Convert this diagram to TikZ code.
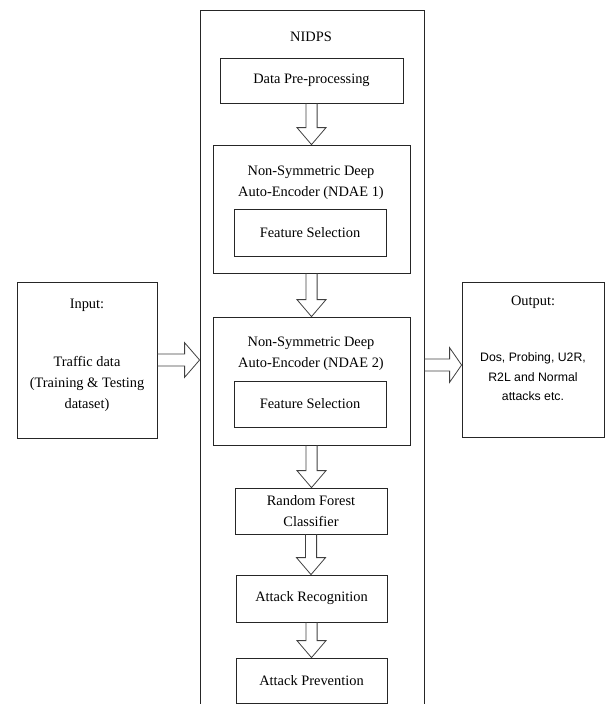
\documentclass[tikz,border=0pt]{standalone}
\usepackage{fontspec}
\setmainfont{Liberation Serif}
\newfontfamily\arialfont{Liberation Sans}
\usetikzlibrary{calc,fit}
\tikzset{
  box/.style={draw=black!85, line width=0.6pt, inner sep=0pt},
  txt/.style={align=center, inner sep=0pt, font=\fontsize{10.8}{15.75}\selectfont},
  blk/.style={draw=black!75, line width=0.6pt, line join=miter}
}
\newcommand\varrow[2]{%
  \draw[blk] let \p1=(#1.south), \p2=(#2.north) in
    (\x1-4.2pt,\y1) -- (\x1-4.2pt,\y2+12.75pt) -- (\x1-10.9pt,\y2+12.75pt) --
    (\x1,\y2) -- (\x1+10.9pt,\y2+12.75pt) -- (\x1+4.2pt,\y2+12.75pt) -- (\x1+4.2pt,\y1);}
\newcommand\harrow[3]{%
  \draw[blk] let \p1=(#1.east), \p2=(#2.west) in
    (\x1,\y1+4.5pt) -- (\x2-#3,\y1+4.5pt) -- (\x2-#3,\y1+13pt) --
    (\x2,\y1) -- (\x2-#3,\y1-13pt) -- (\x2-#3,\y1-4.5pt) -- (\x1,\y1-4.5pt);}
\begin{document}
\begin{tikzpicture}[x=0.75pt,y=-0.75pt]
\useasboundingbox (0,0) rectangle (606,704);
% outer NIDPS box
\node[box, fit={(200,10) (424,720)}] (outer) {};
\node[txt] (title) at (311,37) {NIDPS};
% inner boxes
\node[box, fit={(220,58) (403,103)}] (dp) {};
\node[txt] (dpt) at (dp.center) {Data Pre-processing};
\node[box, fit={(213,145) (410,273)}] (nd1) {};
\node[txt] (nd1t) at (311,182.5) {Non-Symmetric Deep\\Auto-Encoder (NDAE 1)};
\node[box, fit={(234,209) (386,256)}] (fs1) {};
\node[txt] (fs1t) at (fs1.center) {Feature Selection};
\node[box, fit={(213,317) (410,445)}] (nd2) {};
\node[txt] (nd2t) at (311,353.5) {Non-Symmetric Deep\\Auto-Encoder (NDAE 2)};
\node[box, fit={(234,381) (386,427)}] (fs2) {};
\node[txt] (fs2t) at (fs2.center) {Feature Selection};
\node[box, fit={(235,488) (387,534)}] (rf) {};
\node[txt] (rft) at (rf.center) {Random Forest\\Classifier};
\node[box, fit={(236,575) (387,622)}] (ar) {};
\node[txt] (art) at (ar.center) {Attack Recognition};
\node[box, fit={(236,658) (387,703)}] (ap) {};
\node[txt] (apt) at (ap.center) {Attack Prevention};
% input and output
\node[box, fit={(17,282) (157,438)}] (in) {};
\node[txt] (int) at (87,305) {Input:};
\node[txt] (intd) at (87,383.5) {Traffic data\\(Training \& Testing\\dataset)};
\node[box, fit={(462,282) (604,437)}] (out) {};
\node[txt] (outt) at (533,302) {Output:};
\node[align=center, inner sep=0pt, font=\arialfont\fontsize{9.2}{14.6}\selectfont] (outd) at (533,377) {Dos, Probing, U2R,\\R2L and Normal\\attacks etc.};
% block arrows
\varrow{dp}{nd1}
\varrow{nd1}{nd2}
\varrow{nd2}{rf}
\varrow{rf}{ar}
\varrow{ar}{ap}
\harrow{in}{outer}{11.25pt}
\harrow{outer}{out}{9pt}
\end{tikzpicture}
\end{document}
